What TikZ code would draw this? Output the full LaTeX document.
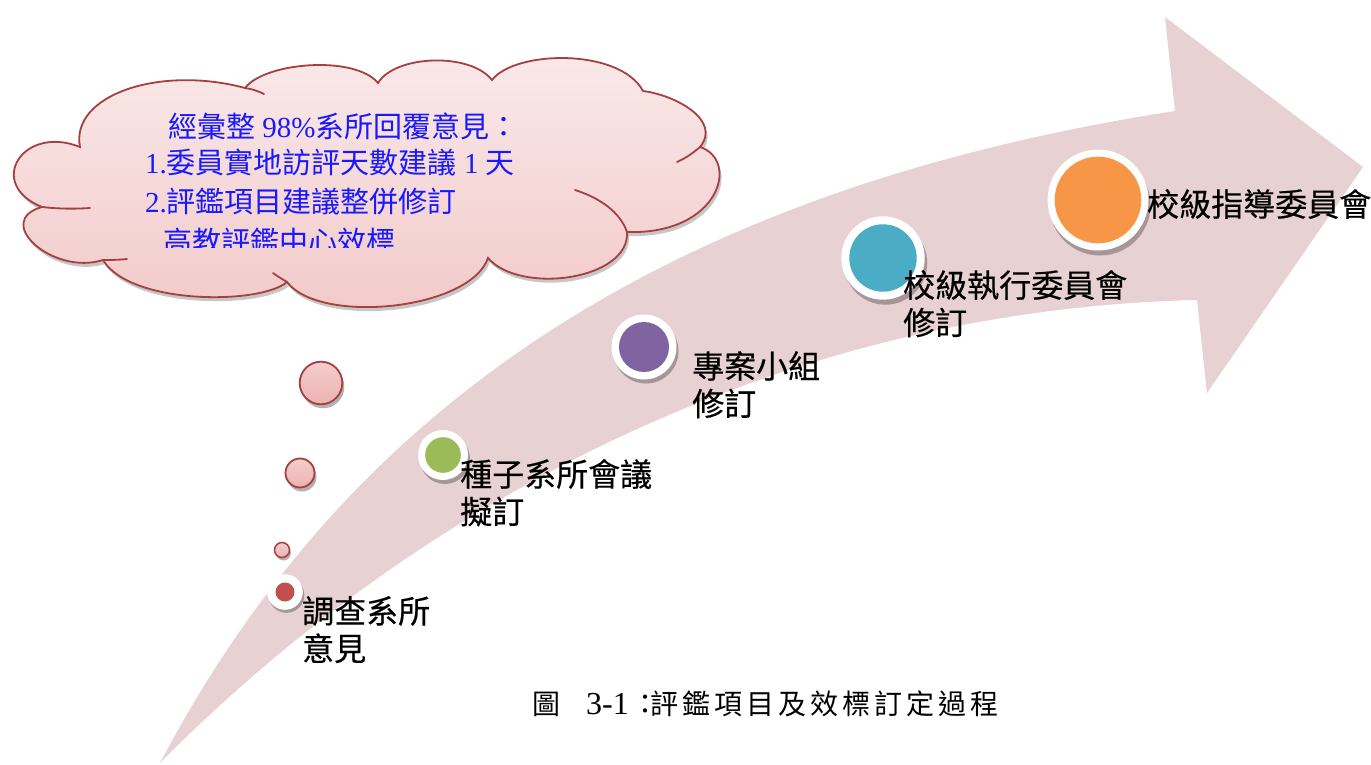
\documentclass[tikz,border=0pt]{standalone}
\usepackage{fontspec}
\setmainfont{Liberation Serif}
\newfontfamily\cjk{Noto Sans CJK TC}
\newfontfamily\labfont[FakeBold=0.4]{Noto Sans CJK TC}
\usetikzlibrary{calc}
\definecolor{arrowfill}{RGB}{231,209,210}
\definecolor{cloudtop}{RGB}{250,234,234}
\definecolor{cloudbot}{RGB}{242,200,200}
\definecolor{cloudline}{RGB}{165,64,62}
\definecolor{cloudblue}{RGB}{25,25,255}
\definecolor{bubtop}{RGB}{244,205,205}
\definecolor{bubbot}{RGB}{236,178,178}
\definecolor{dotred}{RGB}{192,80,77}
\definecolor{dotgreen}{RGB}{155,187,89}
\definecolor{dotpurple}{RGB}{128,100,162}
\definecolor{dotteal}{RGB}{75,172,198}
\definecolor{dotorange}{RGB}{247,150,70}
\newcommand\cg{\kern4pt}
\begin{document}
\begin{tikzpicture}[x=1pt,y=-1pt,
  ringnode/.style={circle,fill=white,inner sep=0pt,outer sep=0pt},
  dotnode/.style={circle,inner sep=0pt,outer sep=0pt},
  shade/.style={fill=black,opacity=0.28},
  bubble/.style={circle,draw=cloudline,line width=1.8pt,top color=bubtop,bottom color=bubbot,inner sep=0pt},
  lab/.style={font={\labfont\fontsize{32}{37.5}\selectfont},align=left,inner sep=0pt,anchor=north west,text=black},
  cloudtxt/.style={font={\fontsize{29}{37}\selectfont},text=cloudblue,inner sep=0pt,anchor=base west},
  cloudedge/.style={draw=cloudline,line width=1.8pt,line cap=round}
]
\useasboundingbox (0,0) rectangle (1371,765);
\fill[white] (0,0) rectangle (1371,765);

% big curved arrow
\fill[arrowfill] (160,763) .. controls (320,460) and (600,200) .. (1175,111)
  -- (1165,17) -- (1363,167) -- (1207,393) -- (1197,300)
  .. controls (760,310) and (400,520) .. (160,763) -- cycle;

% cloud shadow
\fill[shade,opacity=0.22,shift={(2,4)}] (80,147) .. controls (70,95) and (160,65) .. (245,88)
  .. controls (265,62) and (355,55) .. (378,83)
  .. controls (395,55) and (470,52) .. (492,80)
  .. controls (515,50) and (620,48) .. (643,91)
  .. controls (675,95) and (722,120) .. (700,147)
  .. controls (740,160) and (720,235) .. (627,232)
  .. controls (630,280) and (520,295) .. (488,258)
  .. controls (470,310) and (320,325) .. (287,282)
  .. controls (260,305) and (130,305) .. (103,260)
  .. controls (53,276) and (-8,221) .. (42,207)
  .. controls (-15,184) and (23,124) .. (80,147) -- cycle;
% cloud
\path[cloudedge,top color=cloudtop,bottom color=cloudbot] (80,147) .. controls (70,95) and (160,65) .. (245,88)
  .. controls (265,62) and (355,55) .. (378,83)
  .. controls (395,55) and (470,52) .. (492,80)
  .. controls (515,50) and (620,48) .. (643,91)
  .. controls (675,95) and (722,120) .. (700,147)
  .. controls (740,160) and (720,235) .. (627,232)
  .. controls (630,280) and (520,295) .. (488,258)
  .. controls (470,310) and (320,325) .. (287,282)
  .. controls (260,305) and (130,305) .. (103,260)
  .. controls (53,276) and (-8,221) .. (42,207)
  .. controls (-15,184) and (23,124) .. (80,147) -- cycle;
% inner arcs of the cloud
\draw[cloudedge] (245,88) .. controls (252,89) and (258,91) .. (264,94);
\draw[cloudedge] (42,207) .. controls (60,209) and (75,209) .. (90,208);
\draw[cloudedge] (103,260) .. controls (110,260) and (118,260) .. (127,259);
\draw[cloudedge] (287,282) .. controls (282,279) and (277,276) .. (273,273);
\draw[cloudedge] (700,147) .. controls (693,153) and (686,158) .. (677,162);
\draw[cloudedge] (575,190) .. controls (600,198) and (620,212) .. (627,232);

% cloud text
\node[cloudtxt] (c1) at (168,138) {{\cjk 經彙整} 98\%{\cjk 系所回覆意見：}};
\node[cloudtxt] (c2) at (145,174) {1.{\cjk 委員實地訪評天數建議} 1 {\cjk 天}};
\node[cloudtxt] (c3) at (145,212) {2.{\cjk 評鑑項目建議整併修訂}};
\begin{scope}
  \clip (0,0) rectangle (1371,247);
  \node[cloudtxt] (c4) at (163,252) {\cjk 高教評鑑中心效標};
\end{scope}

% thought bubbles
\fill[shade,opacity=0.3] (323,387) circle (21.3);
\node[bubble,minimum size=42.6pt] (b1) at (321,383) {};
\fill[shade,opacity=0.3] (302,477) circle (14.5);
\node[bubble,minimum size=29pt] (b2) at (300,473) {};
\fill[shade,opacity=0.3] (283.5,553) circle (7.5);
\node[bubble,minimum size=15pt,line width=1.5pt] (b3) at (282,550) {};

% milestone circles
\fill[shade] (286.5,595) circle (17.8);
\node[ringnode,minimum size=35.6pt] (r1) at (285,592) {};
\node[dotnode,fill=dotred,minimum size=19pt] (d1) at (r1) {};

\fill[shade] (445,459) circle (25);
\node[ringnode,minimum size=50pt] (r2) at (443,455) {};
\node[dotnode,fill=dotgreen,minimum size=35.6pt] (d2) at (r2) {};

\fill[shade] (646,351) circle (32.5);
\node[ringnode,minimum size=65pt] (r3) at (644,347) {};
\node[dotnode,fill=dotpurple,minimum size=50pt] (d3) at (r3) {};

\fill[shade] (885.5,263) circle (41.7);
\node[ringnode,minimum size=83.4pt] (r4) at (883,258) {};
\node[dotnode,fill=dotteal,minimum size=67.4pt] (d4) at (r4) {};

\fill[shade] (1100,205) circle (50.5);
\node[ringnode,minimum size=101pt] (r5) at (1098,200) {};
\node[dotnode,fill=dotorange,minimum size=86.6pt] (d5) at (r5) {};

% labels
\node[lab] (l1) at (302,596) {調查系所\\意見};
\node[lab] (l2) at (460,459) {種子系所會議\\擬訂};
\node[lab] (l3) at (692,351) {專案小組\\修訂};
\node[lab] (l4) at (903,270) {校級執行委員會\\修訂};
\node[lab] (l5) at (1147,189) {校級指導委員會};

% caption
\node[inner sep=0pt,anchor=base west,font={\cjk\fontsize{28}{28}\selectfont}] (cap) at (532,714.5)
  {圖\kern26pt{\rmfamily\fontsize{32}{32}\selectfont 3-1}\kern3pt：\kern-9pt 評\cg 鑑\cg 項\cg 目\cg 及\cg 效\cg 標\cg 訂\cg 定\cg 過\cg 程};
\end{tikzpicture}
\end{document}
